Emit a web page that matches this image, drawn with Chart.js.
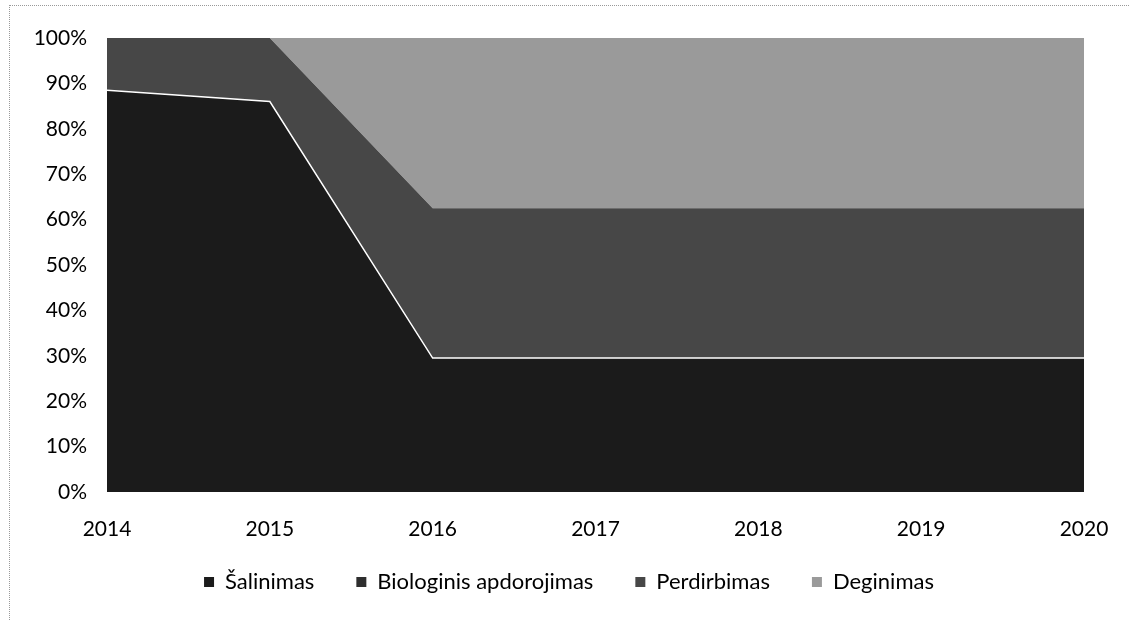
<!DOCTYPE html>
<html>
<head>
<meta charset="utf-8">
<script src="https://cdn.jsdelivr.net/npm/chart.js@4"></script>
<style>
html,body{margin:0;padding:0;background:#fff;}
#wrap{position:relative;width:1129px;height:620px;}
#frame{position:absolute;left:9px;top:5px;right:0;bottom:0;border-left:1px dotted #999;border-top:1px dotted #999;pointer-events:none;}
canvas{display:block;}
</style>
</head>
<body>
<div id="wrap"><canvas id="c" width="1129" height="620"></canvas><div id="frame"></div></div>
<script>
const years = ['2014','2015','2016','2017','2018','2019','2020'];
const salinimas = [88.5, 86, 29.5, 29.5, 29.5, 29.5, 29.5];
const biologinis = [0, 0, 0, 0, 0, 0, 0];
const perdirbimas = [11.5, 14, 33, 33, 33, 33, 33];
const deginimas = [0, 0, 37.5, 37.5, 37.5, 37.5, 37.5];
const yTicks = [0,10,20,30,40,50,60,70,80,90,100];

const FONT = "Lato, 'Open Sans', sans-serif";
Chart.defaults.font.family = FONT;
Chart.defaults.color = '#000';

const legendPlacePlugin = {
  id: 'legendPlace',
  beforeLayout(chart) {
    const lg = chart.legend;
    if (lg && !lg._patched) {
      const orig = lg.fit.bind(lg);
      lg.fit = function(){ orig(); this.height = 78; };
      lg._patched = true;
    }
  },
  afterLayout(chart) {
    const lg = chart.legend;
    if (lg) { lg.top -= 13; lg.bottom -= 13; lg.left += 27; lg.right += 27; }
  }
};

new Chart(document.getElementById('c'), {
  type: 'line',
  data: {
    labels: years,
    datasets: [
      {label:'Šalinimas', data:salinimas, fill:'origin', backgroundColor:'#1b1b1b', borderColor:'#ffffff', borderWidth:1.5},
      {label:'Biologinis apdorojimas', data:biologinis, fill:'-1', backgroundColor:'#2e2e2e', borderColor:'rgba(0,0,0,0)', borderWidth:0},
      {label:'Perdirbimas', data:perdirbimas, fill:'-1', backgroundColor:'#474747', borderColor:'rgba(0,0,0,0)', borderWidth:0},
      {label:'Deginimas', data:deginimas, fill:'-1', backgroundColor:'#9a9a9a', borderColor:'rgba(0,0,0,0)', borderWidth:0}
    ]
  },
  plugins:[legendPlacePlugin],
  options: {
    responsive:false, animation:false,
    elements:{point:{radius:0}, line:{tension:0}},
    layout:{padding:{top:38,right:45,bottom:0,left:0}},
    scales:{
      x:{offset:false, grid:{display:false}, border:{display:false},
         afterFit:(s)=>{s.height=50;},
         ticks:{padding:17, font:{size:21}, maxRotation:0}},
      y:{stacked:true, min:0, max:100, grid:{display:false}, border:{display:false},
         afterBuildTicks:(s)=>{s.ticks = yTicks.map(v=>({value:v}));},
         afterFit:(s)=>{s.width=107;},
         ticks:{padding:12, font:{size:21}, callback:(v)=>v+'%'}}
    },
    plugins:{
      legend:{position:'bottom', labels:{boxWidth:10, boxHeight:10, padding:42, font:{size:22},
        generateLabels:(chart)=>chart.data.datasets.map((d,i)=>({text:d.label, fillStyle:d.backgroundColor, strokeStyle:d.backgroundColor, lineWidth:0, datasetIndex:i, hidden:false}))}},
      tooltip:{enabled:false}
    }
  }
});
</script>
</body>
</html>
